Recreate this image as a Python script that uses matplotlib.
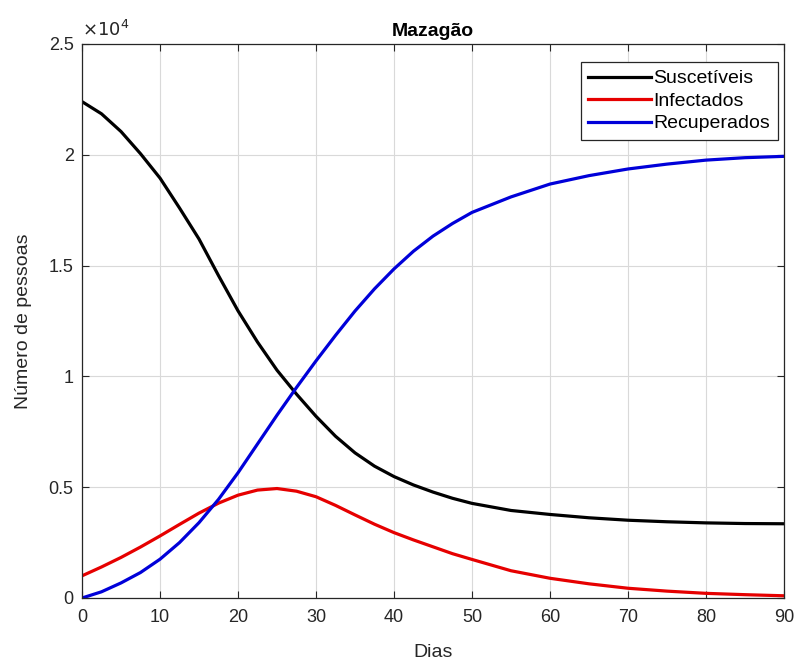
import numpy as np
import matplotlib.pyplot as plt
from matplotlib.ticker import FuncFormatter

plt.rcParams['font.family'] = ['Liberation Sans', 'DejaVu Sans']

# valores (dias, pessoas)
dias = [0, 2.5, 5, 7.5, 10, 12.5, 15, 17.5, 20, 22.5, 25, 27.5, 30, 32.5, 35, 37.5,
        40, 42.5, 45, 47.5, 50, 55, 60, 65, 70, 75, 80, 85, 90]
suscetiveis = [22400, 21850, 21050, 20050, 18950, 17600, 16200, 14550, 12960, 11550,
               10280, 9200, 8200, 7300, 6550, 5950, 5480, 5100, 4780, 4500, 4270,
               3950, 3770, 3620, 3510, 3440, 3390, 3360, 3350]
infectados = [1000, 1400, 1830, 2300, 2800, 3320, 3830, 4280, 4640, 4870, 4940, 4820,
              4570, 4180, 3750, 3330, 2950, 2620, 2310, 2000, 1740, 1230, 890, 640,
              440, 310, 210, 150, 100]
recuperados = [0, 280, 680, 1150, 1750, 2500, 3400, 4450, 5650, 6950, 8250, 9500,
               10700, 11850, 12950, 13950, 14850, 15650, 16330, 16900, 17400, 18100,
               18680, 19060, 19360, 19580, 19760, 19870, 19930]

fig = plt.figure(figsize=(7.98, 6.63), dpi=100)
ax = fig.add_axes([82/798, 65/663, 702/798, 554/663])

ax.plot(dias, suscetiveis, color='k', lw=2.3, label='Suscetíveis')
ax.plot(dias, infectados, color=(0.9, 0, 0), lw=2.3, label='Infectados')
ax.plot(dias, recuperados, color=(0, 0, 0.85), lw=2.3, label='Recuperados')

ax.set_xlim(0, 90)
ax.set_ylim(0, 25000)
ax.set_xticks(np.arange(0, 91, 10))
ax.set_yticks(np.arange(0, 25001, 5000))
ax.yaxis.set_major_formatter(FuncFormatter(lambda v, p: '{:g}'.format(v / 1e4)))

gray = (0.15, 0.15, 0.15)
ax.grid(True, color=(0.85, 0.85, 0.85), lw=0.8)
ax.set_axisbelow(True)
ax.tick_params(direction='in', top=True, right=True, length=5, width=0.8,
               colors=gray, labelsize=13)
ax.tick_params(axis='x', pad=8)
ax.tick_params(axis='y', pad=6)
for s in ax.spines.values():
    s.set_color(gray)
    s.set_linewidth(0.9)

ax.set_xlabel('Dias', fontsize=14, color=gray, labelpad=13)
ax.set_ylabel('Número de pessoas', fontsize=14, color=gray, labelpad=12)
ax.set_title('Mazagão', fontsize=14, fontweight='bold', pad=6)
ax.text(0.0, 1.008, r'$\times10^{4}$', transform=ax.transAxes, fontsize=13,
        color=gray, ha='left', va='bottom')

leg = ax.legend(loc='upper right', bbox_to_anchor=(0.9915, 0.9675), borderaxespad=0,
                fontsize=14, handlelength=3.2, handletextpad=0.15, borderpad=0.4,
                labelspacing=0.25, fancybox=False, framealpha=1)
leg.get_frame().set_edgecolor(gray)
leg.get_frame().set_linewidth(0.9)

fig.savefig('out.png', dpi=100)
